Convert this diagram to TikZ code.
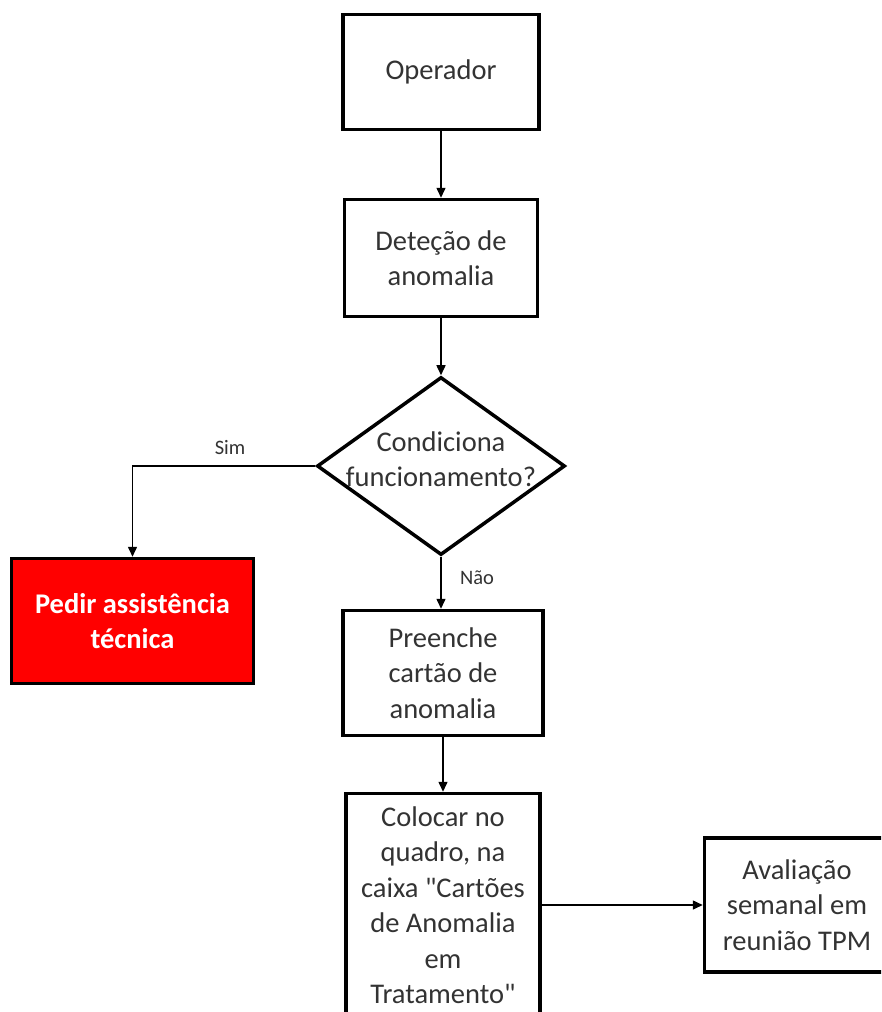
\documentclass[tikz,border=0pt]{standalone}
\usepackage{fontspec}
\setmainfont{Carlito}[Ligatures=TeXOff]
\usetikzlibrary{shapes.geometric,arrows.meta}
\definecolor{txt}{RGB}{51,51,51}
\definecolor{alarm}{RGB}{255,0,0}
\begin{document}
\begin{tikzpicture}[x=1pt,y=-1pt,
  box/.style={draw=black, line width=3.5pt, fill=white, text=txt, align=center,
    inner sep=0pt, font=\fontsize{28.5}{35.5}\selectfont},
  decision/.style={diamond, draw=black, line width=3.5pt, fill=white, inner sep=0pt},
  conn/.style={line width=1.5pt, -{Triangle[length=10pt,width=9pt]}},
  lbl/.style={text=txt, font=\fontsize{20.5}{24}\selectfont}]
\clip (0,0) rectangle (881,1012);
\fill[white] (0,0) rectangle (881,1012);

% main column
\node[box, minimum width=196, minimum height=115] (op) at (441,72) {Operador};
\node[box, minimum width=193, minimum height=117] (det) at (441,258) {Deteção de\\anomalia};
\node[decision, minimum width=248, minimum height=178] (dec) at (441,466) {};
\node[text=txt, align=center, font=\fontsize{28.5}{35.5}\selectfont] (dectxt) at (441,459) {Condiciona\\funcionamento?};
\node[box, minimum width=200, minimum height=125] (pre) at (443,673) {Preenche\\cartão de\\anomalia};
\node[box, minimum width=194, minimum height=223] (col) at (443,905)
  {Colocar no\\quadro, na\\caixa "Cartões\\de Anomalia\\em\\Tratamento"};

% branches
\node[box, fill=alarm, text=white, minimum width=242, minimum height=125,
  font=\fontsize{28.5}{35.5}\selectfont\bfseries] (help) at (132.5,621) {Pedir assistência\\técnica};
\node[box, minimum width=185, minimum height=134] (ava) at (797,905) {Avaliação\\semanal em\\reunião TPM};

% connectors
\draw[conn] (op) -- (det);
\draw[conn] (det) -- (dec);
\draw[conn] (dec.west) -| (help.north);
\draw[conn] (dec.south) -- (dec.south |- pre.north);
\draw[conn] (pre) -- (col);
\draw[conn] (col) -- (ava);

% branch labels
\node[lbl] (sim) at (230,448) {Sim};
\node[lbl] (nao) at (477,578) {Não};
\end{tikzpicture}
\end{document}
